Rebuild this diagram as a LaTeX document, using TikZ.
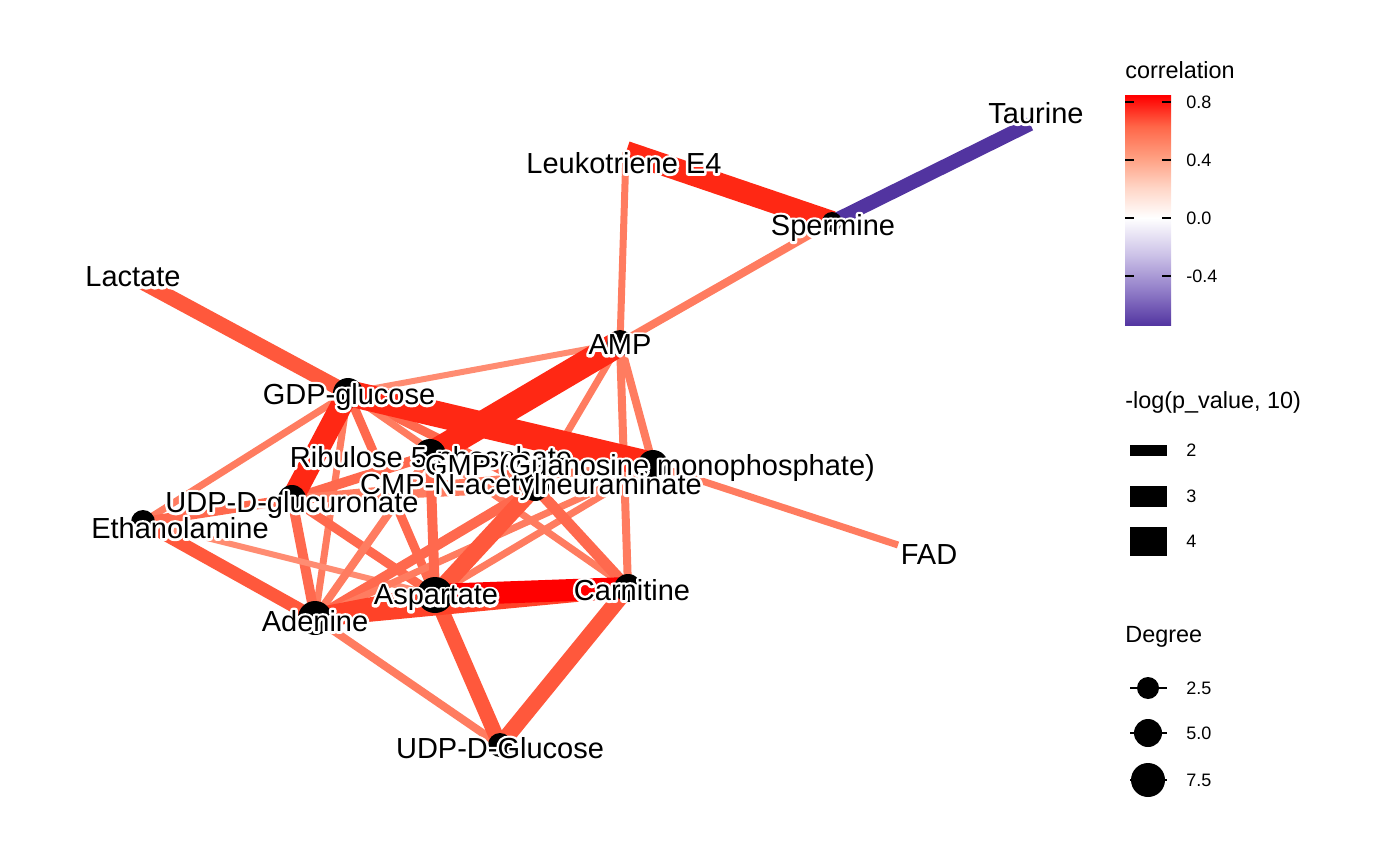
\documentclass[tikz,border=0pt]{standalone}
\usepackage{fontspec}
\setmainfont{Liberation Sans}
\usetikzlibrary{backgrounds}

\definecolor{corrA}{RGB}{255,0,0}
\definecolor{corrB}{RGB}{255,40,20}
\definecolor{corrC}{RGB}{255,66,40}
\definecolor{corrD}{RGB}{255,88,60}
\definecolor{corrE}{RGB}{255,105,78}
\definecolor{corrF}{RGB}{255,124,96}
\definecolor{corrG}{RGB}{255,140,114}
\definecolor{corrNeg}{RGB}{82,52,160}
\definecolor{barM1}{RGB}{145,125,200}
\definecolor{barM2}{RGB}{205,195,232}
\definecolor{barP1}{RGB}{255,213,198}
\definecolor{barP2}{RGB}{255,158,128}
\definecolor{barP3}{RGB}{255,102,72}

\pgfdeclareverticalshading{corrbar}{100bp}{color(0bp)=(corrNeg); color(25bp)=(corrNeg);
  color(32.7bp)=(barM1); color(40.6bp)=(barM2); color(48.5bp)=(white);
  color(55.1bp)=(barP1); color(61.7bp)=(barP2); color(68.4bp)=(barP3);
  color(75bp)=(corrA); color(100bp)=(corrA)}

% white halo behind the labels (outline stroke, then the text itself)
\newcommand\halo[1]{\leavevmode
  \rlap{\special{pdf:literal 1 1 1 RG 2.6 w 1 j 1 Tr}#1\special{pdf:literal 0 Tr 0 0 0 RG 0 j}}#1}

\begin{document}
\begin{tikzpicture}[x=0.5pt,y=-0.5pt,
    metab/.style={circle,fill=black,inner sep=0pt,minimum size=#1},
    leaf/.style={inner sep=0pt,minimum size=0pt},
    link/.style 2 args={draw=#1,line width=#2*0.5pt},
    lab/.style={inner sep=0pt,font=\fontsize{14.5}{16}\selectfont},
    legtitle/.style={anchor=west,inner sep=0pt,font=\fontsize{11.7}{13}\selectfont},
    legtick/.style={anchor=west,inner sep=0pt,font=\fontsize{9}{10}\selectfont}]
\useasboundingbox (0,0) rectangle (1400,865);

%Shape: Nodes
\node[leaf] (taurine) at (1030,124) {};
\node[leaf] (leuko) at (626,152) {};
\node[metab=10pt] (spermine) at (832,222) {};
\node[leaf] (lactate) at (142,282) {};
\node[metab=13pt] (amp) at (620,343) {};
\node[metab=15pt] (gdpglc) at (348,393) {};
\node[metab=16pt] (ribu) at (430,455) {};
\node[metab=15pt] (gmp) at (653,465) {};
\node[metab=14pt] (cmpnana) at (535,487) {};
\node[metab=14pt] (udpgcu) at (292,499) {};
\node[metab=12pt] (ethan) at (143,522) {};
\node[leaf] (fad) at (898,545) {};
\node[metab=18pt] (asp) at (435,595) {};
\node[metab=14pt] (carn) at (628,588) {};
\node[metab=17pt] (aden) at (315,618) {};
\node[metab=12pt] (udpglc) at (500,745) {};

%Shape: Edges
\begin{scope}[on background layer]
\draw[link={corrNeg}{14}] (taurine.center) -- (spermine.center);
\draw[link={corrB}{22}] (leuko.center) -- (spermine.center);
\draw[link={corrF}{7}] (leuko.center) -- (amp.center);
\draw[link={corrF}{8}] (spermine.center) -- (amp.center);
\draw[link={corrD}{15}] (lactate.center) -- (gdpglc.center);
\draw[link={corrG}{6}] (amp.center) -- (gdpglc.center);
\draw[link={corrF}{7}] (amp.center) -- (cmpnana.center);
\draw[link={corrF}{8}] (amp.center) -- (gmp.center);
\draw[link={corrF}{8}] (amp.center) -- (carn.center);
\draw[link={corrF}{7}] (gmp.center) -- (fad.center);
\draw[link={corrF}{7}] (gdpglc.center) -- (ethan.center);
\draw[link={corrF}{7}] (gdpglc.center) -- (aden.center);
\draw[link={corrE}{9}] (gdpglc.center) -- (asp.center);
\draw[link={corrE}{9}] (gdpglc.center) -- (cmpnana.center);
\draw[link={corrF}{7}] (gdpglc.center) -- (carn.center);
\draw[link={corrE}{10}] (udpgcu.center) -- (ribu.center);
\draw[link={corrF}{10}] (udpgcu.center) -- (cmpnana.center);
\draw[link={corrF}{8}] (udpgcu.center) -- (gmp.center);
\draw[link={corrE}{10}] (udpgcu.center) -- (ethan.center);
\draw[link={corrE}{10}] (udpgcu.center) -- (aden.center);
\draw[link={corrE}{9}] (udpgcu.center) -- (asp.center);
\draw[link={corrD}{13}] (ethan.center) -- (aden.center);
\draw[link={corrG}{6}] (ethan.center) -- (asp.center);
\draw[link={corrE}{10}] (aden.center) -- (cmpnana.center);
\draw[link={corrF}{7}] (aden.center) -- (gmp.center);
\draw[link={corrF}{8}] (aden.center) -- (ribu.center);
\draw[link={corrF}{8}] (aden.center) -- (udpglc.center);
\draw[link={corrF}{7}] (asp.center) -- (gmp.center);
\draw[link={corrE}{10}] (asp.center) -- (ribu.center);
\draw[link={corrE}{11}] (carn.center) -- (cmpnana.center);
\draw[link={corrD}{15}] (asp.center) -- (udpglc.center);
\draw[link={corrD}{16}] (carn.center) -- (udpglc.center);
\draw[link={corrD}{17}] (asp.center) -- (cmpnana.center);
\draw[link={corrC}{18}] (aden.center) -- (carn.center);
\draw[link={corrC}{20}] (aden.center) -- (asp.center);
\draw[link={corrA}{22}] (asp.center) -- (carn.center);
\draw[link={corrB}{22}] (gdpglc.center) -- (udpgcu.center);
\draw[link={corrB}{26}] (amp.center) -- (ribu.center);
\draw[link={corrB}{26}] (gdpglc.center) -- (gmp.center);
\end{scope}

% Text Node
\node[lab] (taurineL) at (1036,113) {\halo{Taurine}};
\node[lab] (leukoL) at (624,163) {\halo{Leukotriene E4}};
\node[lab] (spermineL) at (833,228) {\halo{Spermine}};
\node[lab] (lactateL) at (133,277) {\halo{Lactate}};
\node[lab] (ampL) at (620,345) {\halo{AMP}};
\node[lab] (gdpglcL) at (349,397) {\halo{GDP-glucose}};
\node[lab] (ribuL) at (431,460) {\halo{Ribulose 5-phosphate}};
\node[lab] (gmpL) at (650,468) {\halo{GMP (Guanosine monophosphate)}};
\node[lab] (cmpnanaL) at (531,487) {\halo{CMP-N-acetylneuraminate}};
\node[lab] (udpgcuL) at (292,505) {\halo{UDP-D-glucuronate}};
\node[lab] (ethanL) at (180,528) {\halo{Ethanolamine}};
\node[lab] (fadL) at (929,555) {\halo{FAD}};
\node[lab] (aspL) at (436,598) {\halo{Aspartate}};
\node[lab] (carnL) at (632,590) {\halo{Carnitine}};
\node[lab] (adenL) at (315,621) {\halo{Adenine}};
\node[lab] (udpglcL) at (500,748) {\halo{UDP-D-Glucose}};

%Shape: Legend correlation
\node[legtitle] (corrT) at (1125,70) {correlation};
\shade[shading=corrbar] (1125,96) rectangle (1171,326);
\foreach \ty/\tv in {102/0.8,160/0.4,218/0.0,276/-0.4}{
  \draw[line width=0.9pt] (1125,\ty) -- (1134,\ty) (1162,\ty) -- (1171,\ty);
  \node[legtick] (corr\tv) at (1186,\ty) {\tv};
}

%Shape: Legend p value
\node[legtitle] (pvalT) at (1125,402) {-log(p\_value, 10)};
\foreach \ky/\kw/\kv in {450/11/2,496/21/3,541/29/4}{
  \draw[line width=\kw*0.5pt] (1130,\ky) -- (1167,\ky);
  \node[legtick] (pval\kv) at (1186,\ky) {\kv};
}

%Shape: Legend degree
\node[legtitle] (degT) at (1125,637) {Degree};
\foreach \dy/\dr/\dv in {688/11/2.5,733/14/5.0,780/17/7.5}{
  \draw[line width=0.8pt] (1130,\dy) -- (1167,\dy);
  \fill (1148,\dy) circle[radius=\dr];
  \node[legtick] (deg\dv) at (1186,\dy) {\dv};
}
\end{tikzpicture}
\end{document}
